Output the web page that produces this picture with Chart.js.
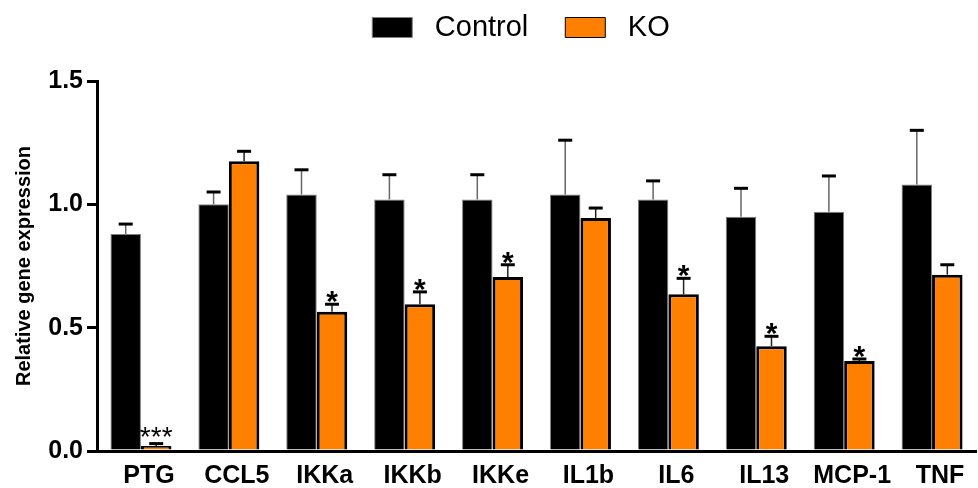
<!DOCTYPE html>
<html lang="en">
  <head>
    <meta charset="UTF-8" />
    <title>Relative gene expression - Control vs KO</title>
    <script src="https://cdn.jsdelivr.net/npm/chart.js"></script>
    <style>
      body,
      html {
        margin: 0;
        padding: 0;
        background: #fff;
      }
      #wrap {
        width: 978px;
        height: 488px;
        position: relative;
      }
    </style>
  </head>
  <body>
    <div id="wrap"><canvas id="myChart"></canvas></div>
    <script>
      const genes = ["PTG", "CCL5", "IKKa", "IKKb", "IKKe", "IL1b", "IL6", "IL13", "MCP-1", "TNF"];
      const controlMean = [0.88, 1.0, 1.04, 1.02, 1.02, 1.04, 1.02, 0.95, 0.97, 1.08];
      const controlErr = [0.04, 0.05, 0.1, 0.1, 0.1, 0.22, 0.075, 0.115, 0.145, 0.22];
      const koMean = [0.02, 1.175, 0.565, 0.595, 0.705, 0.945, 0.635, 0.425, 0.365, 0.715];
      const koErr = [0.01, 0.04, 0.03, 0.05, 0.05, 0.04, 0.065, 0.04, 0.008, 0.04];
      const koStars = ["***", "", "*", "*", "*", "", "*", "*", "*", ""];
      const yTicks = [0, 0.5, 1.0, 1.5];

      Chart.defaults.font.family = "'Liberation Sans', Arial, sans-serif";
      Chart.defaults.color = "#000";

      // upper error bars + significance stars
      const errorBars = {
        id: "errorBars",
        afterDatasetsDraw(chart) {
          const ctx = chart.ctx;
          const y = chart.scales.y;
          const errs = [controlErr, koErr];
          chart.data.datasets.forEach((ds, di) => {
            const meta = chart.getDatasetMeta(di);
            meta.data.forEach((bar, i) => {
              const top = y.getPixelForValue(ds.data[i]);
              const cap = y.getPixelForValue(ds.data[i] + errs[di][i]);
              ctx.save();
              ctx.strokeStyle = di === 0 ? "#666" : "#222";
              ctx.lineWidth = 1.5;
              ctx.beginPath();
              ctx.moveTo(bar.x, top);
              ctx.lineTo(bar.x, cap);
              ctx.stroke();
              ctx.strokeStyle = "#000";
              ctx.lineWidth = 3;
              ctx.beginPath();
              ctx.moveTo(bar.x - 7, cap);
              ctx.lineTo(bar.x + 7, cap);
              ctx.stroke();
              if (di === 1 && koStars[i]) {
                ctx.fillStyle = "#000";
                ctx.textAlign = "center";
                ctx.textBaseline = "alphabetic";
                if (koStars[i] === "***") {
                  ctx.font = "28px 'Liberation Sans', Arial, sans-serif";
                  ctx.fillText(koStars[i], bar.x, cap + 2);
                } else {
                  ctx.font = "bold 30px 'Liberation Sans', Arial, sans-serif";
                  ctx.fillText(koStars[i], bar.x, cap + 7);
                }
              }
              ctx.restore();
            });
          });
        },
      };

      // fix legend height and nudge it over the plot
      const legendPos = {
        id: "legendPos",
        beforeInit(chart) {
          const origFit = chart.legend.fit;
          chart.legend.fit = function () {
            origFit.bind(chart.legend)();
            this.height = 81;
          };
        },
        beforeDraw(chart) {
          chart.legend.left = 66;
          chart.legend.top = -24;
        },
      };

      const ctx = document.getElementById("myChart").getContext("2d");
      const myChart = new Chart(ctx, {
        type: "bar",
        data: {
          labels: genes,
          datasets: [
            {
              label: "Control",
              data: controlMean,
              backgroundColor: "#000000",
              borderColor: "#808080",
              borderWidth: 1,
            },
            {
              label: "KO",
              data: koMean,
              backgroundColor: "#ff8000",
              borderColor: "#000000",
              borderWidth: 3,
            },
          ],
        },
        options: {
          responsive: true,
          maintainAspectRatio: false,
          animation: false,
          layout: { padding: { left: 0, right: 2, top: 0, bottom: 0 } },
          datasets: {
            bar: { categoryPercentage: 0.694, barPercentage: 1.0 },
          },
          plugins: {
            tooltip: { enabled: false },
            legend: {
              position: "top",
              labels: {
                boxWidth: 40,
                boxHeight: 20,
                padding: 37,
                font: { size: 29 },
                color: "#000",
                generateLabels(chart) {
                  const items = Chart.defaults.plugins.legend.labels.generateLabels(chart);
                  items.forEach((it) => {
                    it.lineWidth = 1;
                    it.text = " " + it.text;
                  });
                  return items;
                },
              },
            },
          },
          scales: {
            x: {
              grid: { display: false, drawTicks: false },
              border: { display: true, color: "#000", width: 3 },
              ticks: {
                font: { size: 25, weight: "bold" },
                color: "#000",
                padding: 10,
                labelOffset: 8,
                maxRotation: 0,
                autoSkip: false,
              },
              afterFit(scale) {
                scale.height = 37;
              },
            },
            y: {
              min: 0,
              max: 1.5,
              afterBuildTicks(scale) {
                scale.ticks = yTicks.map((v) => ({ value: v }));
              },
              grid: {
                drawOnChartArea: false,
                drawTicks: true,
                tickLength: 10,
                color: "#000",
                lineWidth: 3,
              },
              border: { display: true, color: "#000", width: 3 },
              ticks: {
                font: { size: 25, weight: "bold" },
                color: "#000",
                padding: 4,
                callback: (v) => Number(v).toFixed(1),
              },
              title: {
                display: true,
                text: "Relative gene expression",
                font: { size: 20, weight: "bold" },
                color: "#000",
                padding: { top: 12, bottom: 0 },
              },
              afterFit(scale) {
                scale.width = 97;
              },
            },
          },
        },
        plugins: [errorBars, legendPos],
      });
    </script>
  </body>
</html>
